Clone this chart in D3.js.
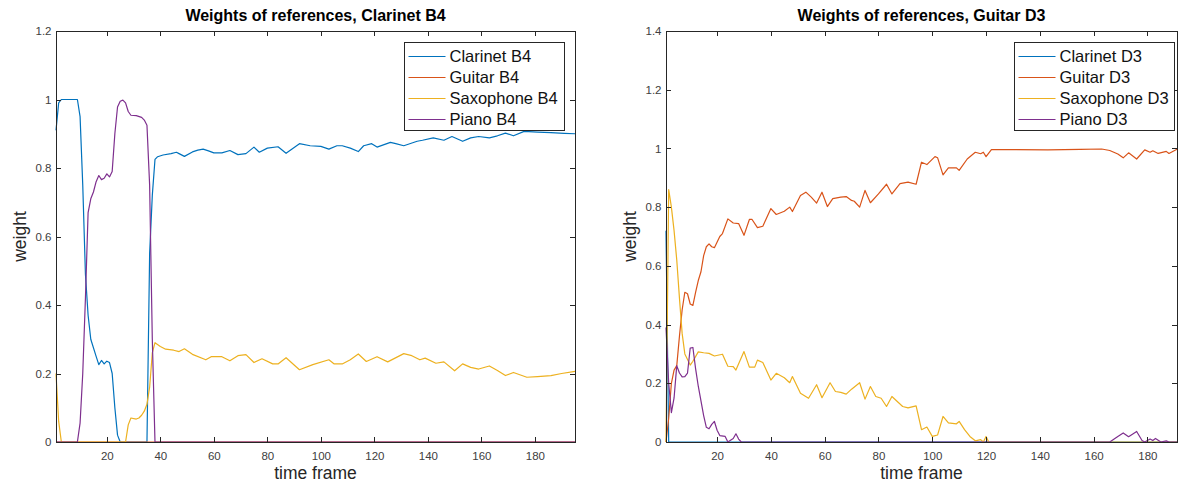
<!DOCTYPE html>
<html>
<head>
<meta charset="utf-8">
<script src="https://cdnjs.cloudflare.com/ajax/libs/d3/7.8.5/d3.min.js"></script>
<style>
  body { margin: 0; background: #fff; }
  svg { display: block; font-family: "Liberation Sans", Arial, Helvetica, sans-serif; }
  .axis path, .axis line { stroke: #262626; shape-rendering: crispEdges; }
  .axis text { fill: #404040; font-size: 11.5px; font-family: "Liberation Sans", Arial, sans-serif; }
  .title { font-size: 16px; font-weight: bold; fill: #000; }
  .label { font-size: 17.5px; fill: #262626; }
  .legend-text { font-size: 16.5px; fill: #111; }
</style>
</head>
<body>
<svg class="plot"></svg>
<script>
// series colours (MATLAB default order)
const colors = ["#0072BD", "#D95319", "#EDB120", "#7E2F8E"];

// ---- Clarinet B4 panel: [time frame, weight] ----
const framesB4 = [1, 195];
const yTicksB4 = [0, 0.2, 0.4, 0.6, 0.8, 1, 1.2];
const namesB4 = ["Clarinet B4", "Guitar B4", "Saxophone B4", "Piano B4"];

const clarinetB4 = [[1,0.91],[2,0.99],[3,1.0],[9,1.0],[10,0.95],[11,0.75],[12,0.49],[13,0.37],[14,0.30],
  [16,0.25],[17,0.226],[18,0.238],[19,0.228],[20,0.236],[21,0.232],[22,0.2],[23,0.1],[24,0.02],[25,0],
  [35,0],[36,0.55],[37,0.72],[38,0.825],[39,0.833],[41,0.838],[44,0.842],[46,0.846],[47,0.842],[49,0.834],
  [52,0.847],[54,0.852],[56,0.855],[58,0.85],[60,0.844],[63,0.844],[66,0.851],[69,0.839],[72,0.842],
  [75,0.861],[77,0.846],[80,0.858],[84,0.862],[87,0.843],[92,0.871],[96,0.865],[100,0.863],[103,0.855],
  [106,0.865],[108,0.865],[111,0.858],[114,0.848],[116,0.865],[119,0.871],[121,0.861],[126,0.875],
  [128,0.871],[131,0.865],[136,0.878],[138,0.881],[142,0.888],[146,0.881],[149,0.892],[153,0.878],
  [156,0.888],[159,0.892],[163,0.888],[166,0.894],[169,0.902],[172,0.894],[176,0.907],[181,0.905],
  [186,0.903],[191,0.901],[195,0.9]];

const guitarB4 = [[1,0],[195,0]];

const saxophoneB4 = [[1,0.2],[2,0.06],[3,0],[27,0],[28,0.05],[29,0.07],[31,0.067],[32,0.07],[33,0.078],
  [34,0.09],[35,0.11],[36,0.16],[37,0.26],[38,0.29],[40,0.279],[42,0.271],[45,0.268],[47,0.264],[49,0.272],
  [52,0.256],[57,0.24],[59,0.249],[63,0.249],[66,0.237],[69,0.252],[72,0.255],[75,0.232],[78,0.243],
  [82,0.228],[84,0.228],[87,0.246],[92,0.211],[97,0.226],[103,0.24],[105,0.228],[108,0.228],[111,0.24],
  [114,0.257],[117,0.235],[121,0.249],[125,0.234],[131,0.258],[134,0.252],[137,0.24],[139,0.245],
  [143,0.23],[146,0.234],[150,0.208],[153,0.228],[156,0.218],[159,0.213],[163,0.222],[166,0.209],
  [169,0.194],[172,0.203],[177,0.189],[181,0.191],[186,0.194],[190,0.2],[195,0.206]];

const pianoB4 = [[1,0],[9,0],[10,0.055],[11,0.2],[12,0.42],[13,0.67],[14,0.71],[15,0.73],[16,0.76],
  [17,0.778],[18,0.766],[19,0.77],[20,0.783],[21,0.774],[22,0.79],[23,0.9],[24,0.978],[25,0.995],
  [26,0.998],[27,0.99],[28,0.965],[29,0.954],[31,0.953],[33,0.948],[34,0.94],[35,0.925],[36,0.75],
  [37,0.3],[38,0],[195,0]];

// ---- Guitar D3 panel ----
const framesD3 = [1, 191];
const yTicksD3 = [0, 0.2, 0.4, 0.6, 0.8, 1, 1.2, 1.4];
const namesD3 = ["Clarinet D3", "Guitar D3", "Saxophone D3", "Piano D3"];

const clarinetD3 = [[1,0.72],[2,0],[191,0]];

const guitarD3 = [[1,0],[2,0.08],[3,0.2],[4,0.245],[5,0.26],[6,0.36],[7,0.45],[8,0.51],[9,0.505],
  [10,0.47],[11,0.465],[12,0.51],[13,0.55],[14,0.58],[15,0.635],[16,0.665],[17,0.675],[18,0.665],
  [19,0.662],[21,0.7],[22,0.71],[24,0.76],[26,0.746],[28,0.744],[30,0.704],[32,0.758],[33,0.758],
  [35,0.73],[37,0.735],[40,0.795],[42,0.775],[45,0.786],[47,0.8],[48,0.785],[51,0.84],[53,0.851],
  [55,0.834],[57,0.814],[59,0.851],[61,0.802],[63,0.829],[66,0.834],[68,0.836],[70,0.823],[71,0.82],
  [73,0.8],[75,0.857],[77,0.815],[80,0.845],[83,0.878],[85,0.845],[88,0.88],[91,0.885],[94,0.878],
  [96,0.953],[98,0.945],[101,0.972],[102,0.968],[104,0.91],[106,0.934],[109,0.934],[110,0.925],
  [113,0.964],[116,0.987],[118,0.982],[119,0.987],[120,0.972],[122,0.996],[130,0.996],[143,0.995],
  [155,0.997],[163,0.998],[166,0.993],[169,0.981],[171,0.968],[173,0.985],[176,0.964],[179,0.995],
  [181,0.987],[182,0.992],[184,0.983],[187,0.99],[188,0.983],[191,0.997]];

const saxophoneD3 = [[1,0],[2,0.86],[3,0.8],[4,0.72],[5,0.62],[6,0.49],[7,0.37],[8,0.3],[10,0.262],
  [11,0.275],[13,0.307],[15,0.304],[17,0.302],[19,0.293],[22,0.299],[24,0.258],[26,0.257],[27,0.245],
  [30,0.308],[32,0.255],[34,0.255],[35,0.279],[37,0.271],[40,0.211],[42,0.234],[45,0.219],[47,0.202],
  [48,0.223],[51,0.166],[54,0.149],[57,0.195],[59,0.151],[62,0.202],[64,0.172],[66,0.169],[68,0.163],
  [70,0.18],[73,0.202],[75,0.146],[77,0.189],[79,0.155],[81,0.149],[83,0.121],[85,0.155],[89,0.121],
  [91,0.116],[94,0.123],[96,0.042],[98,0.051],[100,0.019],[102,0.024],[104,0.087],[106,0.065],
  [109,0.062],[110,0.07],[112,0.042],[114,0.019],[116,0.004],[118,0.008],[119,0],[120,0.019],[121,0],
  [191,0]];

const pianoD3 = [[1,0.39],[2,0.2],[3,0.1],[4,0.15],[5,0.26],[6,0.235],[7,0.222],[8,0.223],[9,0.235],
  [10,0.32],[11,0.322],[12,0.25],[13,0.19],[14,0.14],[15,0.09],[16,0.05],[17,0.045],[18,0.06],[19,0.07],
  [20,0.04],[21,0.022],[23,0.019],[24,0],[26,0.012],[27,0.028],[28,0.01],[29,0],[166,0],[169,0.019],
  [171,0.031],[173,0.018],[174,0.024],[176,0.036],[178,0.005],[179,0],[181,0.01],[182,0.005],
  [183,0.012],[185,0],[187,0.004],[188,0],[191,0]];

const xTicks = [20, 40, 60, 80, 100, 120, 140, 160, 180];

const width = 1179, height = 484;

let svg = d3.select(".plot")
            .attr("width", width)
            .attr("height", height);

function drawPanel(p) {
  let x = d3.scaleLinear().domain(p.frames).range([p.left, p.right]);
  let y = d3.scaleLinear().domain([p.yTicks[0], p.yTicks[p.yTicks.length - 1]]).range([p.bottom, p.top]);

  let g = svg.append("g");

  // Lines
  let line = d3.line()
               .x((d) => { return x(d[0]); })
               .y((d) => { return y(d[1]); });

  p.series.forEach((s, i) => {
    g.append("path")
     .datum(s)
     .attr("fill", "none")
     .attr("stroke", colors[i])
     .attr("stroke-width", 1.2)
     .attr("stroke-linejoin", "round")
     .attr("d", line);
  });

  // x-Axis (ticks point inwards)
  g.append("g")
   .attr("class", "axis")
   .attr("transform", "translate(0," + p.bottom + ")")
   .call(d3.axisBottom(x).tickValues(xTicks).tickSizeInner(-5).tickSizeOuter(0).tickPadding(9.5));

  g.append("g")
   .attr("class", "axis")
   .attr("transform", "translate(0," + p.top + ")")
   .call(d3.axisTop(x).tickValues(xTicks).tickSizeInner(-5).tickSizeOuter(0).tickFormat(""));

  // y-Axis
  g.append("g")
   .attr("class", "axis")
   .attr("transform", "translate(" + p.left + ",0)")
   .call(d3.axisLeft(y).tickValues(p.yTicks).tickSizeInner(-5).tickSizeOuter(0).tickPadding(4.5)
           .tickFormat(d3.format("~g")));

  g.append("g")
   .attr("class", "axis")
   .attr("transform", "translate(" + p.right + ",0)")
   .call(d3.axisRight(y).tickValues(p.yTicks).tickSizeInner(-5).tickSizeOuter(0).tickFormat(""));

  // Title
  g.append("text")
   .attr("class", "title")
   .attr("x", (p.left + p.right) / 2)
   .attr("y", 20.5)
   .attr("text-anchor", "middle")
   .text(p.title);

  // x-Axis Label
  g.append("text")
   .attr("class", "label")
   .attr("x", (p.left + p.right) / 2)
   .attr("y", 478.5)
   .attr("text-anchor", "middle")
   .text("time frame");

  // y-Axis Label
  g.append("text")
   .attr("class", "label")
   .attr("transform", "translate(" + (p.left - 30) + "," + (p.top + p.bottom) / 2 + ") rotate(-90)")
   .attr("text-anchor", "middle")
   .text("weight");

  // Legend
  let legend = g.append("g").attr("transform", "translate(" + p.legendX + "," + p.legendY + ")");

  legend.append("rect")
        .attr("width", 160)
        .attr("height", 87.5)
        .style("fill", "#fff")
        .style("stroke", "#262626")
        .style("shape-rendering", "crispEdges");

  p.names.forEach((name, i) => {
    let cy = 14 + i * 21;
    legend.append("line")
          .attr("x1", 4)
          .attr("x2", 41)
          .attr("y1", cy)
          .attr("y2", cy)
          .attr("stroke", colors[i])
          .attr("stroke-width", 1.2);
    legend.append("text")
          .attr("class", "legend-text")
          .attr("x", 45)
          .attr("y", cy)
          .attr("dy", "0.36em")
          .text(name);
  });
}

drawPanel({
  title: "Weights of references, Clarinet B4",
  frames: framesB4,
  yTicks: yTicksB4,
  names: namesB4,
  series: [clarinetB4, guitarB4, saxophoneB4, pianoB4],
  left: 56, right: 575, top: 31, bottom: 442,
  legendX: 404.5, legendY: 42.5
});

drawPanel({
  title: "Weights of references, Guitar D3",
  frames: framesD3,
  yTicks: yTicksD3,
  names: namesD3,
  series: [clarinetD3, guitarD3, saxophoneD3, pianoD3],
  left: 666, right: 1177, top: 31, bottom: 442,
  legendX: 1014.5, legendY: 42.5
});
</script>
</body>
</html>
